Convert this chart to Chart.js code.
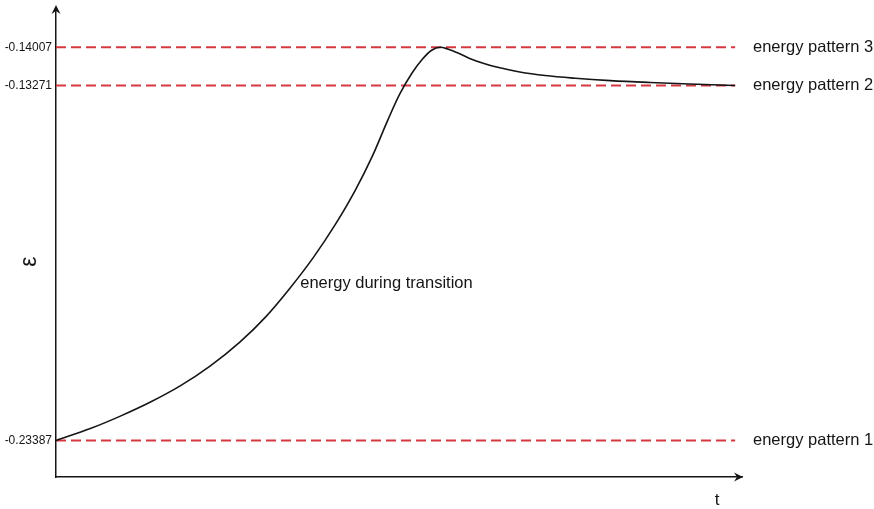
<!DOCTYPE html>
<html>
<head>
<meta charset="utf-8">
<script src="https://cdn.jsdelivr.net/npm/chart.js@4.4.0/dist/chart.umd.min.js"></script>
<style>
  html, body { margin: 0; padding: 0; background: #ffffff; }
  #wrap { width: 874px; height: 509px; }
</style>
</head>
<body>
<div id="wrap"><canvas id="chart" width="874" height="509"></canvas></div>
<script>
// Energy levels of the three stable patterns
const patternNames = ['energy pattern 1', 'energy pattern 2', 'energy pattern 3'];
const patternEnergies = [-0.23387, -0.13271, -0.14007];

// Energy of the system while it moves from pattern 1 towards pattern 2
const time = [0, 0.50, 0.93, 1.37, 1.81, 2.24, 2.68, 3.05, 3.41, 3.75, 4.07, 4.36,
              4.61, 4.84, 5.01, 5.19, 5.34, 5.47, 5.60, 5.71, 5.86, 6.03, 6.25, 6.47,
              6.76, 7.13, 7.57, 8.08, 8.66, 9.24, 9.90];
const energy = [-0.23387, -0.23103, -0.22812, -0.22476, -0.22085, -0.21619, -0.21040,
                -0.20450, -0.19754, -0.19024, -0.18239, -0.17426, -0.16610, -0.15732,
                -0.15126, -0.14620, -0.14293, -0.14083, -0.14007, -0.13974, -0.13897,
                -0.13791, -0.13689, -0.13612, -0.13531, -0.13462, -0.13410, -0.13365,
                -0.13329, -0.13300, -0.13271];
const curveLabel = 'energy during transition';

// Level-diagram axis: linear up to the pattern-3 level, then folded back
// so the relaxation towards pattern 2 is drawn just below that level.
class FoldedEnergyScale extends Chart.LinearScale {
  getPixelForValue(value) {
    const fold = this.options.fold;
    const v = value > fold ? fold - (value - fold) * this.options.foldStretch : value;
    return super.getPixelForValue(v);
  }
}
FoldedEnergyScale.id = 'foldedEnergy';
FoldedEnergyScale.defaults = Chart.LinearScale.defaults;
Chart.register(FoldedEnergyScale);

const FONT = '"Liberation Sans", Arial, sans-serif';
const INK = '#151515';
const LEVEL_RED = 'rgb(214, 56, 66)';
const topLevel = patternEnergies[2];

const levelTicks = scale => {
  scale.ticks = patternEnergies.map(v => ({ value: v }));
};

// the level ticks sit inside the axis, so no extra room is needed above or below
const fixedWidth = w => scale => {
  scale.width = w;
  scale.paddingTop = 0;
  scale.paddingBottom = 0;
};

// Arrowheads, axis symbols and the curve caption
const decorations = {
  id: 'decorations',
  afterDatasetsDraw(chart) {
    const { ctx, chartArea: a, scales } = chart;
    ctx.save();
    ctx.fillStyle = INK;

    // y-axis arrowhead
    const L = a.left;
    ctx.beginPath();
    ctx.moveTo(L, a.top - 3);
    ctx.lineTo(L - 4.5, a.top + 6);
    ctx.lineTo(L, a.top + 3);
    ctx.lineTo(L + 4.5, a.top + 6);
    ctx.closePath();
    ctx.fill();

    // x-axis arrowhead
    const B = a.bottom;
    const R = a.right + 1;
    ctx.beginPath();
    ctx.moveTo(R, B);
    ctx.lineTo(R - 9, B - 4.5);
    ctx.lineTo(R - 6, B);
    ctx.lineTo(R - 9, B + 4.5);
    ctx.closePath();
    ctx.fill();

    // axis symbols
    ctx.textAlign = 'center';
    ctx.textBaseline = 'middle';
    ctx.font = '17px ' + FONT;
    ctx.fillText('t', a.right - 25, a.bottom + 23);

    ctx.save();
    ctx.translate(a.left - 26, (a.top + a.bottom) / 2 + 19);
    ctx.rotate(-Math.PI / 2);
    ctx.font = '23px ' + FONT;
    ctx.fillText('\u03b5', 0, 0);
    ctx.restore();

    // caption beside the rising part of the curve
    ctx.textAlign = 'left';
    ctx.font = '16.5px ' + FONT;
    ctx.fillText(curveLabel, scales.x.getPixelForValue(3.56), scales.y.getPixelForValue(-0.1963));
    ctx.restore();
  }
};

const levelDatasets = patternEnergies.map((e, i) => ({
  label: patternNames[i],
  data: [{ x: time[0], y: e }, { x: time[time.length - 1], y: e }],
  borderColor: LEVEL_RED,
  borderWidth: 2,
  borderDash: [10, 5],
  pointRadius: 0,
  order: 2
}));

const curveDataset = {
  label: curveLabel,
  data: time.map((t, i) => ({ x: t, y: energy[i] })),
  borderColor: INK,
  borderWidth: 1.6,
  pointRadius: 0,
  cubicInterpolationMode: 'monotone',
  order: 1
};

const foldedAxis = {
  type: 'foldedEnergy',
  min: -0.24258,
  max: -0.13070,
  fold: topLevel,
  foldStretch: 1.238,
  afterBuildTicks: levelTicks,
  grid: { display: false, drawTicks: false }
};

new Chart(document.getElementById('chart'), {
  type: 'line',
  data: { datasets: [...levelDatasets, curveDataset] },
  plugins: [decorations],
  options: {
    responsive: false,
    animation: false,
    events: [],
    devicePixelRatio: 1,
    layout: { padding: { top: 8 } },
    plugins: { legend: { display: false }, tooltip: { enabled: false } },
    scales: {
      x: {
        type: 'linear',
        min: 0,
        max: 10,
        grid: { display: false, drawTicks: false },
        border: { color: INK, width: 1.5 },
        ticks: { display: false },
        afterFit: s => { s.height = 32; }
      },
      y: {
        ...foldedAxis,
        position: 'left',
        border: { color: INK, width: 1.5 },
        ticks: {
          autoSkip: false,
          padding: 4,
          color: INK,
          font: { family: FONT, size: 12 },
          callback: v => v.toFixed(5)
        },
        afterFit: fixedWidth(56)
      },
      yr: {
        ...foldedAxis,
        position: 'right',
        border: { display: false },
        ticks: {
          autoSkip: false,
          padding: 11,
          color: INK,
          font: { family: FONT, size: 16.5 },
          callback: v => patternNames[patternEnergies.indexOf(v)]
        },
        afterFit: fixedWidth(132)
      }
    }
  }
});
</script>
</body>
</html>
